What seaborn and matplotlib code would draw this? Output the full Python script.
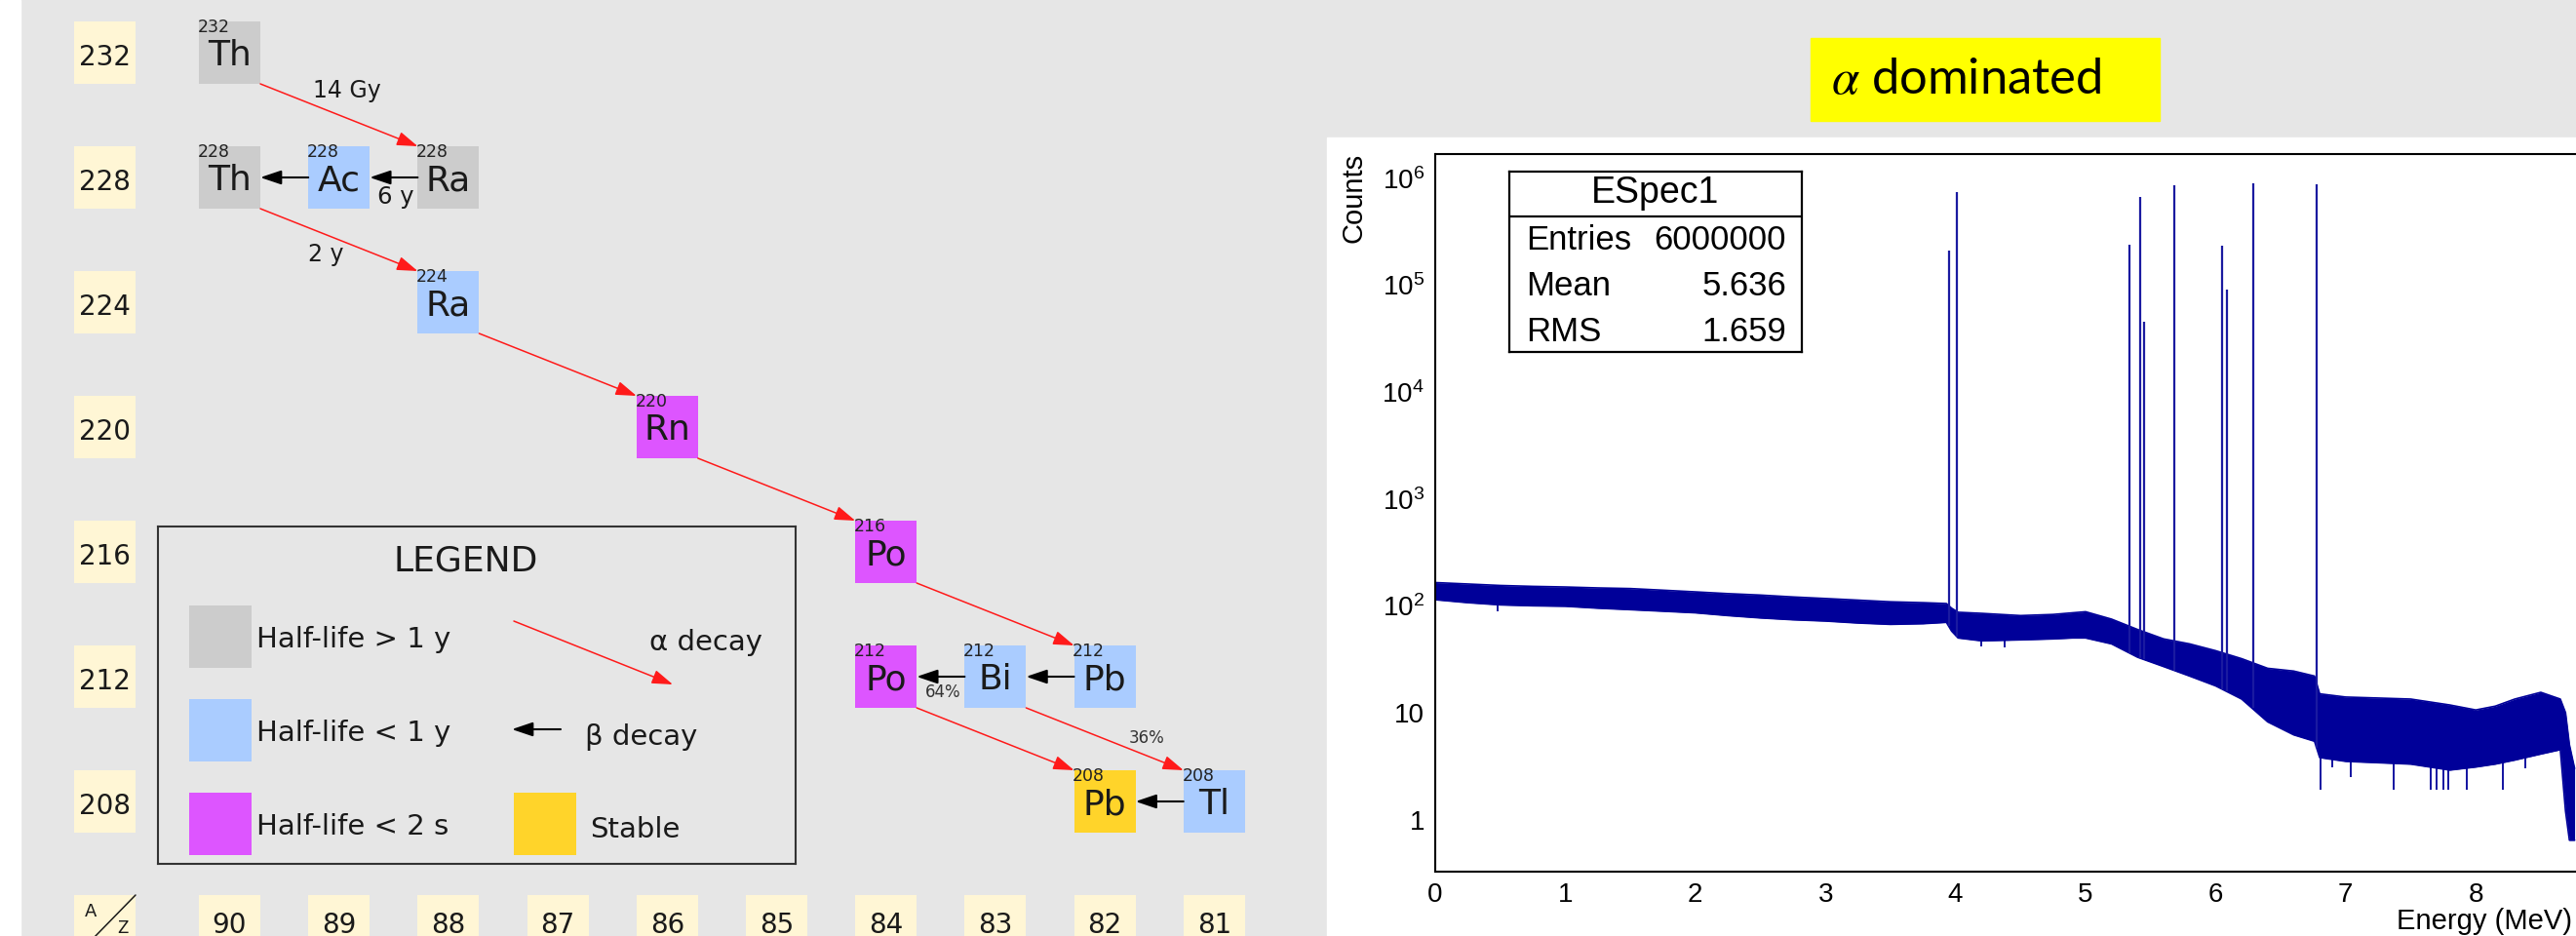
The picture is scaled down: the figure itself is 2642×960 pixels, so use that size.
import numpy as np
import pandas as pd
import matplotlib
matplotlib.use("Agg")
import matplotlib.pyplot as plt
import seaborn as sns
from matplotlib.patches import Rectangle
from matplotlib.ticker import LogLocator, MultipleLocator, FixedLocator, FuncFormatter, NullFormatter

# ==================== data ====================

# Th-232 chain, left panel
nuc_symbol = ["Th", "Th", "Ac", "Ra", "Ra", "Rn", "Po", "Pb", "Bi", "Po", "Tl", "Pb"]
nuc_Z = [90, 90, 89, 88, 88, 86, 84, 82, 83, 84, 81, 82]
nuc_A = [232, 228, 228, 228, 224, 220, 216, 212, 212, 212, 208, 208]
nuc_class = ["> 1 y", "> 1 y", "< 1 y", "> 1 y", "< 1 y", "< 2 s",
             "< 2 s", "< 1 y", "< 1 y", "< 2 s", "< 1 y", "stable"]

alpha_parent_Z = [90, 90, 88, 86, 84, 84, 83]
alpha_parent_A = [232, 228, 224, 220, 216, 212, 212]
alpha_label = ["14 Gy", "2 y", "", "", "", "", "36%"]

beta_parent_Z = [88, 89, 82, 83, 81]
beta_parent_A = [228, 228, 212, 212, 208]
beta_label = ["6 y", "", "", "64%", ""]

mass_rows = [232, 228, 224, 220, 216, 212, 208]
charge_cols = [90, 89, 88, 87, 86, 85, 84, 83, 82, 81]

legend_classes = ["> 1 y", "< 1 y", "< 2 s"]

# alpha spectrum, right panel (band envelope)
spec_E = [0.0, 0.25, 0.5, 0.75, 1.0, 1.25, 1.5, 1.75, 2.0, 2.25,
          2.5, 2.75, 3.0, 3.25, 3.5, 3.75, 3.93, 3.97, 4.02, 4.2,
          4.5, 4.75, 4.9, 5.0, 5.2, 5.4, 5.6, 5.8, 6.0, 6.2,
          6.4, 6.6, 6.76, 6.80, 7.0, 7.25, 7.5, 7.8, 8.0, 8.15,
          8.3, 8.5, 8.65, 8.69, 8.72, 8.76]
spec_hi = [165, 160, 155, 152, 150, 147, 145, 140, 135, 130,
           126, 121, 117, 113, 109, 107, 105, 95, 87, 85,
           81, 83, 86, 88, 75, 60, 49, 44, 38, 32,
           26, 24.5, 22, 15, 14, 13.7, 13.4, 11.8, 10.6, 11.5,
           13.4, 15.5, 13.4, 10, 5, 3]
spec_lo = [114, 107, 102, 100, 99, 95, 92, 89, 86, 81,
           77, 74, 72, 69, 67, 68, 70, 58, 50, 47,
           48, 49, 50, 50, 44, 33, 27, 22, 17.8, 13.4,
           8.2, 6.2, 5.4, 3.8, 3.5, 3.4, 3.3, 2.9, 3.1, 3.3,
           3.6, 4.1, 4.5, 1.2, 0.64, 0.64]

dip_E = [0.48, 4.20, 4.38, 6.81, 6.90, 7.04, 7.37, 7.65, 7.70, 7.75, 7.79, 7.93, 8.21, 8.38]
dip_counts = [89, 42, 41, 1.9, 3.1, 2.5, 1.9, 1.9, 1.9, 1.9, 1.9, 1.9, 1.9, 3.0]

peak_E = [3.947, 4.012, 5.340, 5.423, 5.449, 5.685, 6.051, 6.090, 6.288, 6.778, 8.785]
peak_counts = [2.1e5, 7.4e5, 2.4e5, 6.7e5, 4.6e4, 8.7e5, 2.35e5, 9.1e4, 9.0e5, 8.9e5, 9.0e5]

energy_ticks = [0, 1, 2, 3, 4, 5, 6, 7, 8]
count_ticks = [1, 10, 1e2, 1e3, 1e4, 1e5, 1e6]

stats_name = "ESpec1"
stats_keys = ["Entries", "Mean", "RMS"]
stats_vals = ["6000000", "5.636", "1.659"]

# ==================== style ====================

W, H, DPI = 2642, 960, 100
BG = "#e6e6e6"
CREAM = "#fff6d5"
INK = "#1a1a1a"
ROOT_BLUE = "#000099"
class_color = {"> 1 y": "#cccccc", "< 1 y": "#aaccff", "< 2 s": "#dd55ff", "stable": "#ffd42a"}
DIAG_FONT = ["DejaVu Sans"]

sns.set_theme(style="white")
plt.rcParams["font.family"] = ["Liberation Sans", "DejaVu Sans"]
plt.rcParams["mathtext.fontset"] = "custom"
plt.rcParams["mathtext.rm"] = "Liberation Sans"
plt.rcParams["mathtext.it"] = "Liberation Sans:italic"


def frac_rect(x0, y0, x1, y1):
    # pixel box (origin top-left) -> figure fraction rect
    return [x0 / W, 1 - y1 / H, (x1 - x0) / W, (y1 - y0) / H]


# diagram grid: pixel -> Z column / A row
def z_of(px):
    return 90 - (px - 235.5) / 112.2


def a_of(py):
    return 232 - (py - 54) / 32


HW = 31.5 / 112.2   # half box width in Z units
HH = 1.0            # half box height in A units
LABEL_Z = z_of(107.5)
LABEL_A = 204
BASE = 13 / 32      # text baseline below box centre

fig = plt.figure(figsize=(W / DPI, H / DPI), dpi=DPI, facecolor=BG)
fig.patches.append(Rectangle((0, 0), 21 / W, 1, transform=fig.transFigure,
                             color="white", zorder=-5))
fig.patches.append(Rectangle((1361 / W, 0), 1, 1 - 141 / H, transform=fig.transFigure,
                             color="white", zorder=-5))

# ==================== 1. decay chain ====================

ax_d = fig.add_axes(frac_rect(21, 0, 1361, 960))
ax_d.set_xlim(z_of(21), z_of(1361))
ax_d.set_ylim(a_of(960), a_of(0))
ax_d.axis("off")

for Z, A, sym, cls in zip(nuc_Z, nuc_A, nuc_symbol, nuc_class):
    ax_d.add_patch(Rectangle((Z - HW, A - HH), 2 * HW, 2 * HH, fc=class_color[cls], ec="none"))
    ax_d.text(Z, A - BASE, sym, ha="center", va="baseline", fontsize=26,
              family=DIAG_FONT, color=INK)
    ax_d.annotate(str(A), xy=(Z + HW, A + HH), xytext=(-1, 2), textcoords="offset points",
                  ha="left", va="top", fontsize=12.5, family=DIAG_FONT, color="#222222")

for A in mass_rows:
    ax_d.add_patch(Rectangle((LABEL_Z - HW, A - HH), 2 * HW, 2 * HH, fc=CREAM, ec="none"))
    ax_d.text(LABEL_Z, A - BASE, str(A), ha="center", va="baseline", fontsize=20,
              family=DIAG_FONT, color=INK)

# bottom row sits on the lower edge; keep its digits just inside the picture
for Z in charge_cols:
    ax_d.add_patch(Rectangle((Z - HW, LABEL_A - HH), 2 * HW, 2 * HH, fc=CREAM, ec="none"))
    ax_d.text(Z, a_of(957), str(Z), ha="center", va="baseline", fontsize=20,
              family=DIAG_FONT, color=INK)

# A/Z corner cell
ax_d.add_patch(Rectangle((LABEL_Z - HW, LABEL_A - HH), 2 * HW, 2 * HH, fc=CREAM, ec="none"))
ax_d.text(z_of(93.5), a_of(935), "A", ha="center", va="center", fontsize=13,
          family=DIAG_FONT, color=INK)
ax_d.plot([z_of(139), z_of(96)], [a_of(918), a_of(962)], color=INK, lw=1.1)
ax_d.text(z_of(126), a_of(957), "Z", ha="center", va="baseline", fontsize=12,
          family=DIAG_FONT, color=INK)

label_offset_px = {"14 Gy": (8, -25), "2 y": (-13, 15), "36%": (43, -1),
                   "6 y": (2, 20), "64%": (2, 16)}
label_size = {"14 Gy": 17, "2 y": 17, "6 y": 17.5, "36%": 12, "64%": 12}

alpha_kw = dict(arrowstyle="-|>,head_length=0.65,head_width=0.22", color="#ff1a1a",
                lw=1.1, mutation_scale=20, shrinkA=0, shrinkB=0)
beta_kw = dict(arrowstyle="-|>,head_length=0.65,head_width=0.22", color="black",
               lw=1.5, mutation_scale=20, shrinkA=0, shrinkB=0)


def arrow_label(text, x0, y0, x1, y1):
    if not text:
        return
    dx, dy = label_offset_px[text]
    ax_d.annotate(text, xy=((x0 + x1) / 2, (y0 + y1) / 2), xytext=(dx * 0.72, -dy * 0.72),
                  textcoords="offset points", ha="center", va="center",
                  fontsize=label_size[text], family=DIAG_FONT,
                  color=INK if label_size[text] > 14 else "#333333")


for Zp, Ap, lab in zip(alpha_parent_Z, alpha_parent_A, alpha_label):
    start = (Zp - HW, Ap - HH)
    end = (Zp - 2 + HW, Ap - 4 + HH)
    ax_d.annotate("", xy=end, xytext=start, arrowprops=alpha_kw)
    arrow_label(lab, *start, *end)

for Zp, Ap, lab in zip(beta_parent_Z, beta_parent_A, beta_label):
    start = (Zp + HW, Ap)
    end = (Zp + 1 - HW, Ap)
    ax_d.annotate("", xy=end, xytext=start, arrowprops=beta_kw)
    arrow_label(lab, *start, *end)

# legend box (local pixel coordinates)
ax_l = fig.add_axes(frac_rect(162, 540, 816, 886))
ax_l.set_xlim(0, 654)
ax_l.set_ylim(346, 0)
ax_l.set_facecolor("none")
ax_l.set_xticks([])
ax_l.set_yticks([])
for sp in ax_l.spines.values():
    sp.set_color("#333333")
    sp.set_linewidth(1.5)

ax_l.text(316, 35, "LEGEND", ha="center", va="center", fontsize=26, family=DIAG_FONT, color=INK)
for i, cls in enumerate(legend_classes):
    y = 81 + i * 96
    ax_l.add_patch(Rectangle((32, y), 64, 64, fc=class_color[cls], ec="none"))
    ax_l.text(101, y + 32, "Half-life " + cls, ha="left", va="center_baseline",
              fontsize=21, family=DIAG_FONT, color=INK)
ax_l.add_patch(Rectangle((365, 273), 64, 64, fc=class_color["stable"], ec="none"))
ax_l.text(443, 308, "Stable", ha="left", va="center_baseline", fontsize=21,
          family=DIAG_FONT, color=INK)
ax_l.annotate("", xy=(528, 162), xytext=(365, 97), arrowprops=alpha_kw)
ax_l.text(504, 116, "α decay", ha="left", va="center_baseline", fontsize=21,
          family=DIAG_FONT, color=INK)
ax_l.annotate("", xy=(363, 208), xytext=(413, 208), arrowprops=beta_kw)
ax_l.text(438, 213, "β decay", ha="left", va="center_baseline", fontsize=21,
          family=DIAG_FONT, color=INK)

# ==================== 2. alpha spectrum ====================

fig.patches.append(Rectangle((1857 / W, 1 - 124 / H), (2215 - 1857) / W, 85 / H,
                             transform=fig.transFigure, color="#ffff00", zorder=-4))
fig.text(1878 / W, 1 - 82 / H, r"$\alpha$ dominated", ha="left", va="center",
         fontsize=36.5, family=["Lato", "DejaVu Sans"], math_fontfamily="stix", color="black")

X_SCALE = 133.4
ax_s = fig.add_axes(frac_rect(1472, 158, 1472 + 9 * X_SCALE, 894))
ax_s.set_facecolor("white")
ax_s.set_yscale("log")
ax_s.set_xlim(0, 9)
ax_s.set_ylim(0.325, 1.69e6)

spec = pd.DataFrame({"E": spec_E, "hi": spec_hi, "lo": spec_lo})
ax_s.fill_between(spec["E"], spec["lo"], spec["hi"], color=ROOT_BLUE, lw=0)
sns.lineplot(data=spec, x="E", y="hi", ax=ax_s, color=ROOT_BLUE, lw=1.2)
sns.lineplot(data=spec, x="E", y="lo", ax=ax_s, color=ROOT_BLUE, lw=1.2)
ax_s.vlines(dip_E, dip_counts, np.interp(dip_E, spec_E, spec_lo), color=ROOT_BLUE, lw=1.3)
ax_s.vlines(peak_E, np.interp(peak_E, spec_E, spec_lo), peak_counts, color="#1a1aa0", lw=1.6)

ax_s.xaxis.set_major_locator(FixedLocator(energy_ticks))
ax_s.xaxis.set_minor_locator(MultipleLocator(0.2))
ax_s.yaxis.set_major_locator(FixedLocator(count_ticks))
ax_s.yaxis.set_minor_locator(LogLocator(base=10, subs=np.arange(2, 10), numticks=20))
ax_s.yaxis.set_minor_formatter(NullFormatter())


def root_log(v, _pos):
    e = int(round(np.log10(v)))
    if e == 0:
        return "1"
    if e == 1:
        return "10"
    return r"$10^{%d}$" % e


ax_s.yaxis.set_major_formatter(FuncFormatter(root_log))
ax_s.tick_params(axis="x", which="major", direction="in", length=15, width=1.4,
                 labelsize=20, pad=8, colors="black")
ax_s.tick_params(axis="x", which="minor", direction="in", length=7.5, width=1.4)
ax_s.tick_params(axis="y", which="major", direction="in", length=26, width=1.4,
                 labelsize=20, pad=8, colors="black")
ax_s.tick_params(axis="y", which="minor", direction="in", length=13, width=1.4)
for sp in ax_s.spines.values():
    sp.set_color("black")
    sp.set_linewidth(1.5)

ax_s.set_ylabel("")
# axis title hangs at the right end of the axis; pulled in just enough to stay on the canvas
ax_s.set_xlabel("Energy (MeV)", fontsize=21, ha="right", va="center", color="black")
ax_s.xaxis.set_label_coords((2638 - 1472) / (9 * X_SCALE), (894 - 945) / 736)
fig.text(1389 / W, 1 - 157 / H, "Counts", rotation=90, ha="center", va="top",
         fontsize=21, color="black")

# statistics box
ax_st = fig.add_axes(frac_rect(1548, 176, 1848, 361))
ax_st.set_xlim(0, 300)
ax_st.set_ylim(185, 0)
ax_st.set_facecolor("white")
ax_st.set_xticks([])
ax_st.set_yticks([])
for sp in ax_st.spines.values():
    sp.set_color("black")
    sp.set_linewidth(1.6)
ax_st.axhline(46, color="black", lw=1.6)
ax_st.text(150, 22, stats_name, ha="center", va="center", fontsize=27, color="black")
for i, (k, v) in enumerate(zip(stats_keys, stats_vals)):
    y = 71 + i * 46.5
    ax_st.text(17, y, k, ha="left", va="center", fontsize=25, color="black")
    ax_st.text(284, y, v, ha="right", va="center", fontsize=25, color="black")

fig.savefig("out.png", dpi=DPI, facecolor=BG)
